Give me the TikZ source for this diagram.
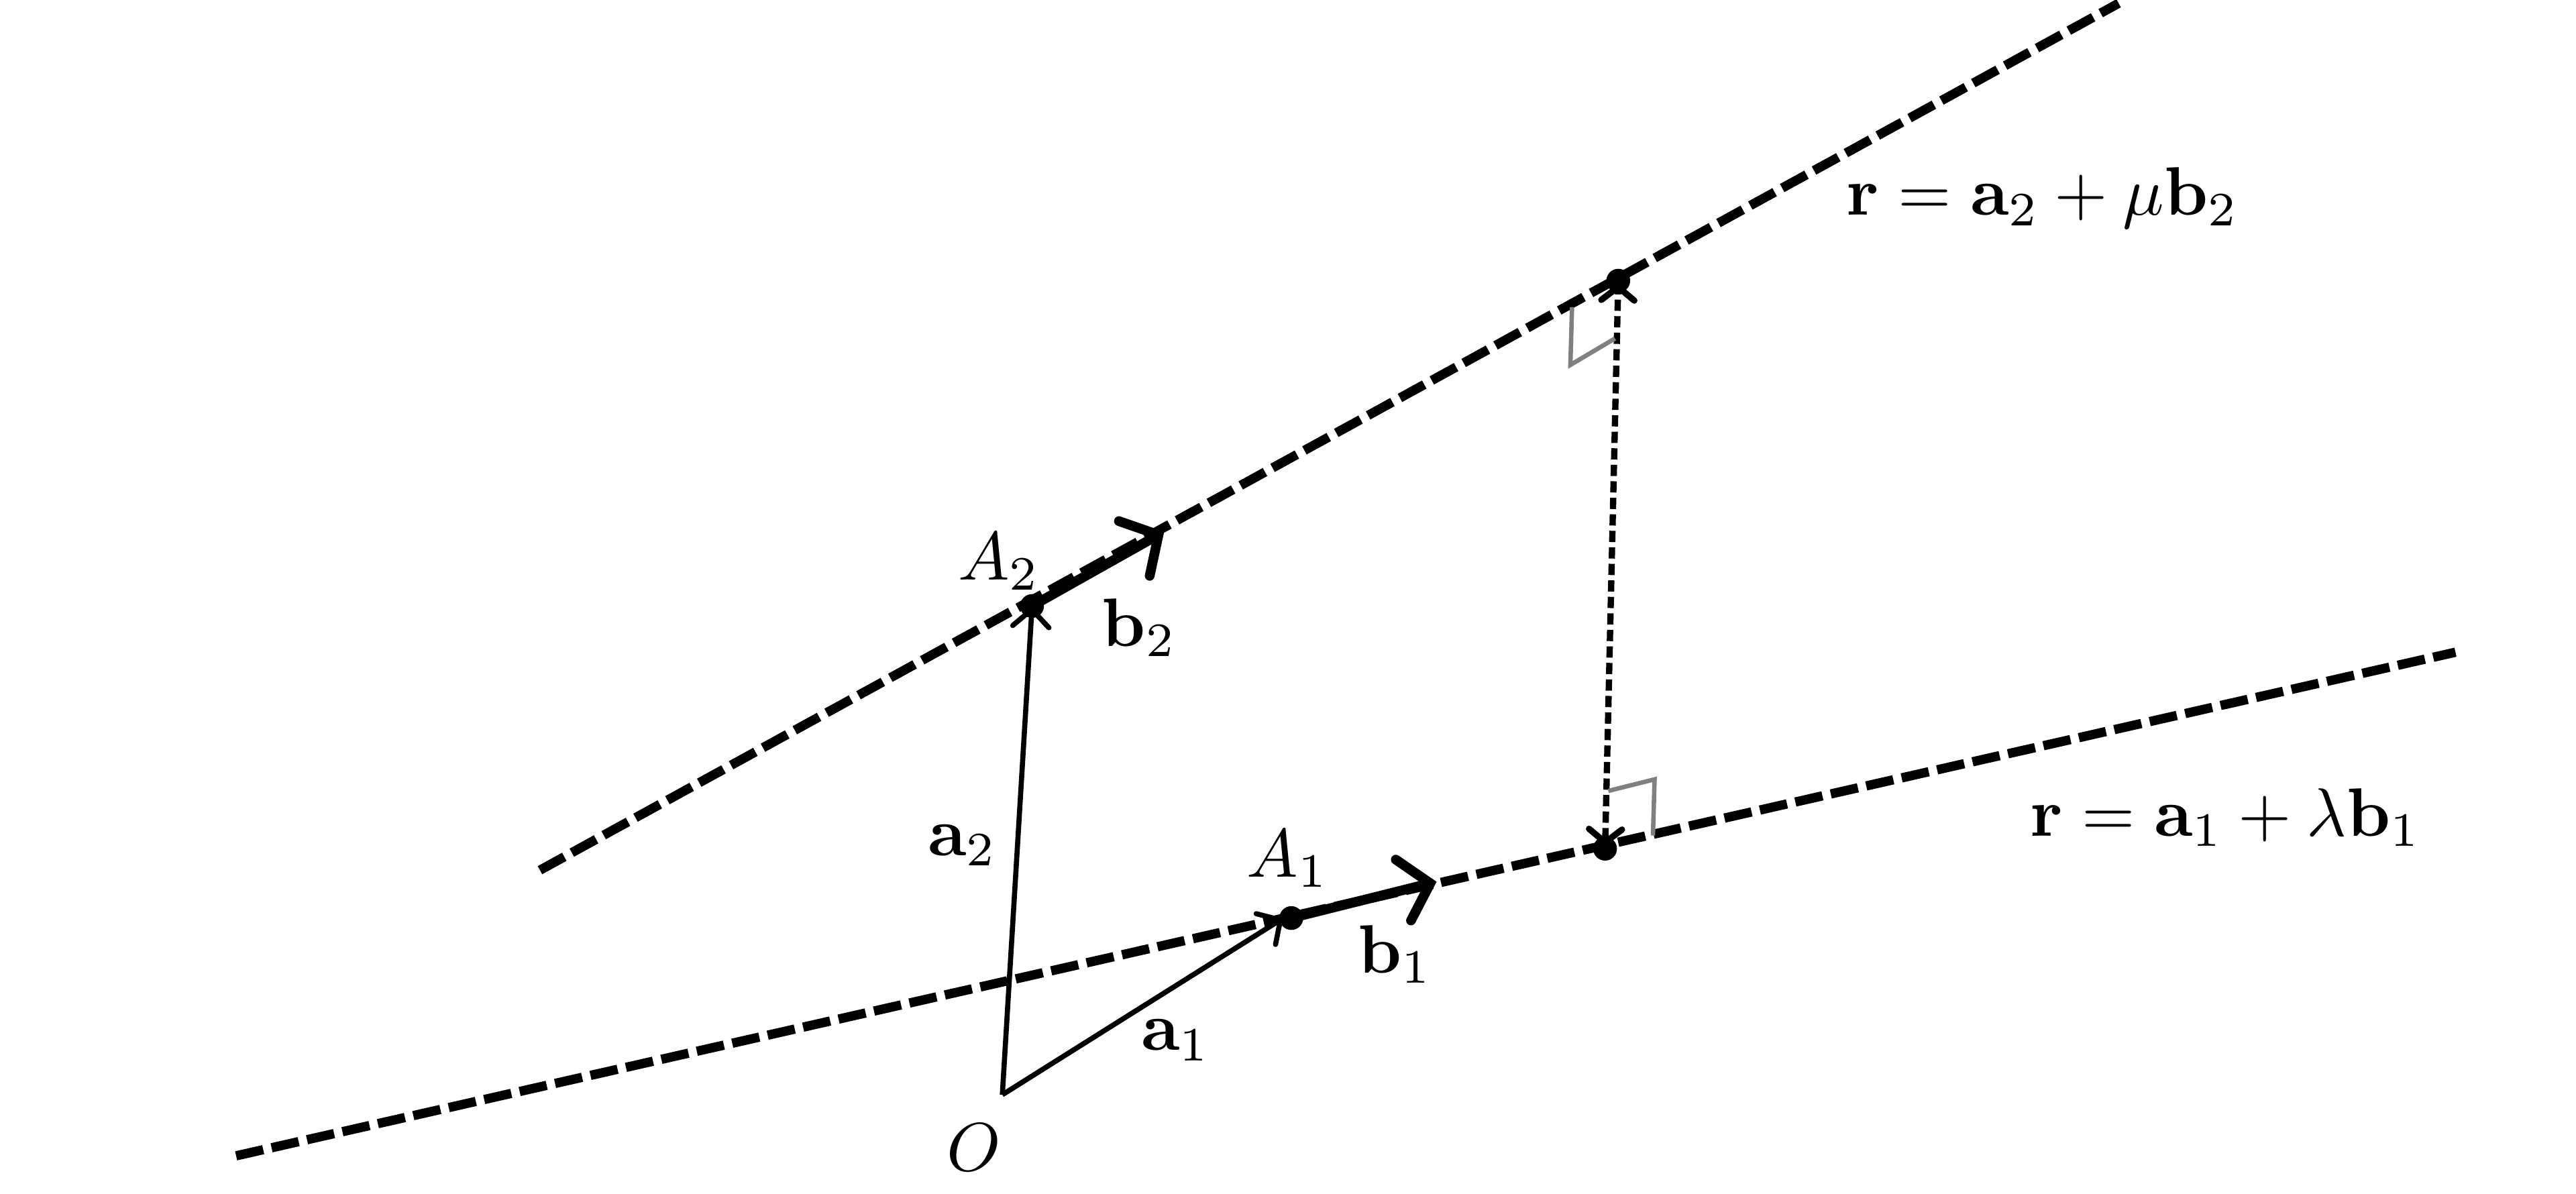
\documentclass[tikz,border=0pt]{standalone}
\usepackage{amsmath}
\usetikzlibrary{arrows.meta}

\begin{document}
\begin{tikzpicture}[x=0.025cm,y=-0.025cm,
            lab/.style = {scale=2.95},
            lineq/.style = {line width=4pt, dash pattern=on 0.42cm off 0.13cm},
            vec/.style = {line width=2.2pt, -{Straight Barb[length=0.26cm,width=0.55cm,line cap=round]}},
            dirvec/.style = {line width=4.2pt, line cap=round, -{Straight Barb[length=0.42cm,width=0.95cm,line cap=round]}},
            gapline/.style = {line width=2.7pt, dash pattern=on 0.17cm off 0.08cm, shorten <=1pt, shorten >=1pt,
                {Straight Barb[length=0.2cm,width=0.5cm,line cap=round]}-{Straight Barb[length=0.2cm,width=0.5cm,line cap=round]}},
            rightmark/.style = {gray, line width=1.9pt},
            dot/.style = {circle, fill=black, inner sep=0pt, minimum size=0.36cm}]
            \useasboundingbox (0,0) rectangle (1560,723);
            % the two lines
            \coordinate (L1s) at (143,700);
            \coordinate (L1e) at (1487,395);
            \coordinate (L2s) at (327,527);
            \coordinate (L2e) at (1283,2);
            \draw[lineq] (L1s) -- (L1e);
            \draw[lineq] (L2s) -- (L2e);
            % points
            \coordinate (O) at (607,663);
            \coordinate (A1) at (782,556);
            \coordinate (A2) at (625,367);
            \coordinate (P1) at (972,514);
            \coordinate (P2) at (980,170);
            \coordinate (B1) at (870,534);
            \coordinate (B2) at (705,322);
            % position and direction vectors
            \draw[vec] (O) -- ([xshift=-0.12cm]A1);
            \draw[vec] (O) -- (A2);
            \draw[dirvec] (A1) -- (B1);
            \draw[dirvec] (A2) -- (B2);
            % common perpendicular
            \draw[gapline] (P1) -- (P2);
            \coordinate (M2a) at (952,186);
            \coordinate (M2b) at (951,221);
            \coordinate (M2c) at (978,205);
            \draw[rightmark] (M2a) -- (M2b) -- (M2c);
            \coordinate (M1a) at (974,479);
            \coordinate (M1b) at (1002,472);
            \coordinate (M1c) at (1001,506);
            \draw[rightmark] (M1a) -- (M1b) -- (M1c);
            \node[dot] (dA1) at (A1) {};
            \node[dot] (dA2) at (A2) {};
            \node[dot] (dP1) at (P1) {};
            \node[dot] (dP2) at (P2) {};
            % labels
            \node[lab] (eq2) at (1237,120) {$\mathbf{r}=\mathbf{a}_2+\mu\mathbf{b}_2$};
            \node[lab] (eq1) at (1348,495) {$\mathbf{r}=\mathbf{a}_1+\lambda\mathbf{b}_1$};
            \node[lab] (lA2) at (605,340) {$A_2$};
            \node[lab] (lA1) at (780,520) {$A_1$};
            \node[lab] (lb2) at (690,380) {$\mathbf{b}_2$};
            \node[lab] (lb1) at (845,578) {$\mathbf{b}_1$};
            \node[lab] (la2) at (583,512) {$\mathbf{a}_2$};
            \node[lab] (la1) at (712,630) {$\mathbf{a}_1$};
            \node[lab] (lO) at (590,695) {$O$};
\end{tikzpicture}
\end{document}
